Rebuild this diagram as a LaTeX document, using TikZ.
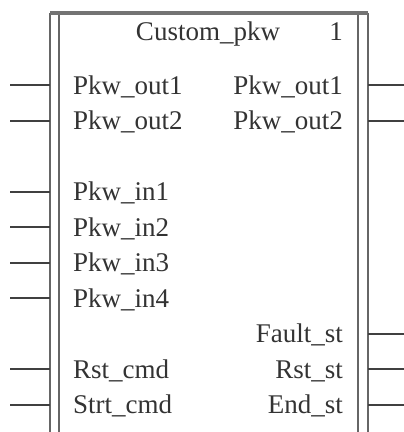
\documentclass[tikz,border=0pt]{standalone}
\usepackage{fontspec}
\setmainfont{Liberation Serif}
\usetikzlibrary{positioning}
\tikzset{
  pinlabel/.style={inner sep=0pt, font=\fontsize{27}{30}\selectfont, text=black!80},
  pinline/.style={line width=2pt, draw=black!75},
  frameline/.style={line width=2pt, draw=black!60},
}

\begin{document}
\begin{tikzpicture}[x=1pt,y=-1pt]
  \useasboundingbox (0,0) rectangle (404,432);

  % Frame of the block
  \coordinate (lo) at (50,13);
  \coordinate (li) at (59,13);
  \coordinate (ri) at (358,13);
  \coordinate (ro) at (368,13);
  \draw[frameline] (lo) -- (lo |- 0,432);
  \draw[frameline] (li) -- (li |- 0,432);
  \draw[frameline] (ri) -- (ri |- 0,432);
  \draw[frameline] (ro) -- (ro |- 0,432);
  \draw[line width=3.5pt, draw=black!55] (lo) -- (ro);

  % Title
  \node[pinlabel, anchor=base] (title) at (208,40) {Custom\_pkw};
  \node[pinlabel, anchor=base east] (num) at (343,40) {1};

  % Inputs
  \foreach \y/\txt [count=\i] in {85/Pkw\_out1, 120.5/Pkw\_out2, 191.5/Pkw\_in1,
      227/Pkw\_in2, 262.5/Pkw\_in3, 298/Pkw\_in4, 369/Rst\_cmd, 404.5/Strt\_cmd} {
    \node[pinlabel, anchor=base west] (in\i) at (73,{\y+9}) {\txt};
    \coordinate (inend\i) at (10,\y);
    \draw[pinline] (inend\i) -- (inend\i -| lo);
  }

  % Outputs
  \foreach \y/\txt [count=\i] in {85/Pkw\_out1, 120.5/Pkw\_out2, 333.5/Fault\_st,
      369/Rst\_st, 404.5/End\_st} {
    \node[pinlabel, anchor=base east] (out\i) at (343,{\y+9}) {\txt};
    \coordinate (outend\i) at (404,\y);
    \draw[pinline] (outend\i -| ro) -- (outend\i);
  }
\end{tikzpicture}
\end{document}
